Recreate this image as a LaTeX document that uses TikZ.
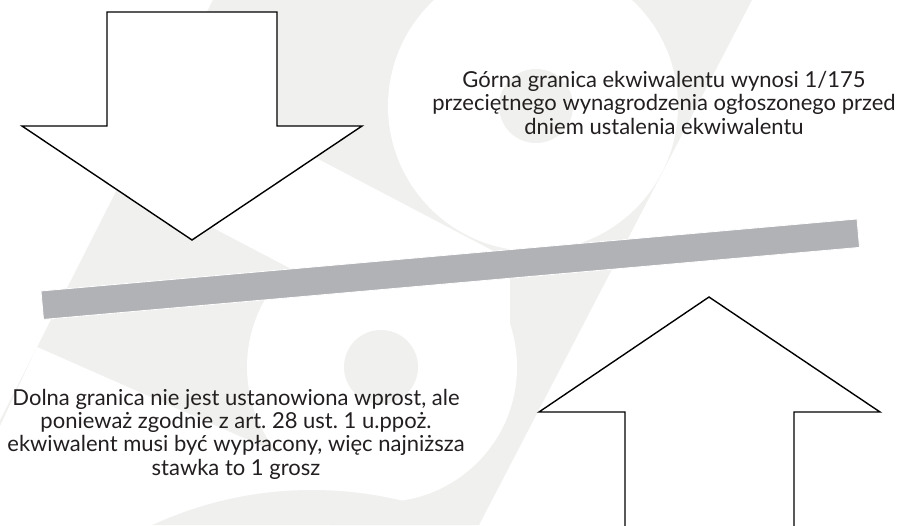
\documentclass[tikz,border=0pt]{standalone}
\usepackage{fontspec}
\setmainfont{Lato}
\usepackage{xcolor}
\usetikzlibrary{calc}
\definecolor{wmgray}{RGB}{240,240,238}
\definecolor{bargray}{RGB}{177,178,181}
\definecolor{txtgray}{RGB}{35,31,32}
\tikzset{blockarrow/.style={draw=black,fill=white,line width=1.4pt,line join=miter},
  opis/.style={align=center,inner sep=0pt,text=txtgray,font=\fontsize{22}{23.3}\selectfont}}
\frenchspacing

\begin{document}
\begin{tikzpicture}[x=1pt,y=-1pt]
\useasboundingbox (0,0) rectangle (901,525);
\clip (0,0) rectangle (901,525);
\fill[white] (0,0) rectangle (901,525);
\fill[wmgray] (213,0) -- (752,0) -- (479,525) -- (-53,525) -- cycle;
\fill[white] (533,106) circle (145);
\fill[white] (382,367) circle (135);
\fill[white] (171.5,82) -- (510,259.8) -- (510,383.8) -- (121.9,180) -- cycle;
\fill[white] (37,347) -- (330,476) -- (330,640) -- (-100,640) -- cycle;
\fill[wmgray] (536,106) circle (37);
\fill[wmgray] (381,367) circle (37);
\begin{scope}
\clip (213,0) -- (752,0) -- (479,525) -- (-53,525) -- cycle;
\fill[wmgray] (312,870) circle (380);
\end{scope}
\filldraw[fill=bargray,draw=white,line width=0.8pt] (41,291) -- (857,219) -- (859.5,247.4) -- (43.5,319.4) -- cycle;
\draw[blockarrow] (107,12) -- (277,12) -- (277,126) -- (362,126) -- (192,240) -- (22,126) -- (107,126) -- cycle;
\draw[blockarrow] (709,297) -- (880,412) -- (794,412) -- (794,540) -- (625,540) -- (625,412) -- (539,412) -- cycle;
\node[opis] (gorna) at (664,102.7) {Górna granica ekwiwalentu wynosi 1/175\\przeciętnego wynagrodzenia ogłoszonego przed\\dniem ustalenia ekwiwalentu};
\node[opis] (dolna) at (236,434.2) {Dolna granica nie jest ustanowiona wprost, ale\\ponieważ zgodnie z art. 28 ust. 1 u.ppoż.\\ekwiwalent musi być wypłacony, więc najniższa\\stawka to 1 grosz};
\end{tikzpicture}
\end{document}
